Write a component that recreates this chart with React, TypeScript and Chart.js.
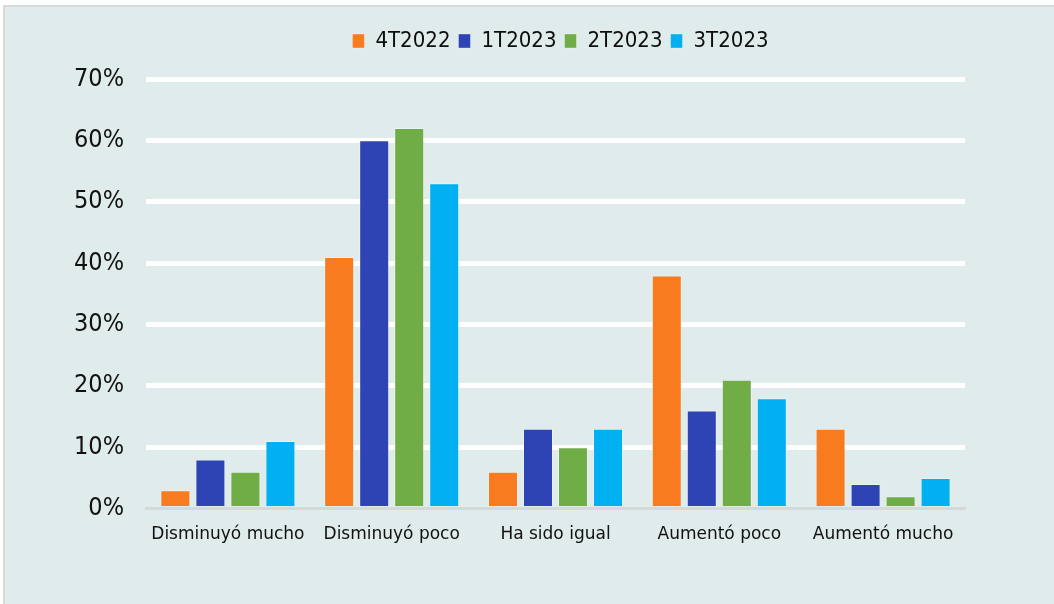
import React, { useEffect, useRef } from "react";
import { Chart, registerables } from "chart.js";

Chart.register(...registerables);

const categories = ["Disminuyó mucho", "Disminuyó poco", "Ha sido igual", "Aumentó poco", "Aumentó mucho"];
const seriesNames = ["4T2022", "1T2023", "2T2023", "3T2023"];
const s4T2022 = [3, 41, 6, 38, 13];
const s1T2023 = [8, 60, 13, 16, 4];
const s2T2023 = [6, 62, 10, 21, 2];
const s3T2023 = [11, 53, 13, 18, 5];
const seriesColors = ["#F97B20", "#2E44B5", "#70AD47", "#00B0F0"];
const yTicks = [0, 10, 20, 30, 40, 50, 60, 70];

const legendTweak = {
  id: "legendTweak",
  beforeInit(chart: any) {
    const lg = chart.legend;
    if (!lg) return;
    const orig = lg.fit.bind(lg);
    lg.fit = function () {
      orig();
      this.height += 17;
    };
  },
  afterLayout(chart: any) {
    const lg = chart.legend;
    if (!lg) return;
    lg.left = chart.chartArea.left + 10;
    lg.width = lg.right - lg.left;
  },
};

export default function App() {
  const ref = useRef<HTMLCanvasElement>(null);
  useEffect(() => {
    if (!ref.current) return;
    const values = [s4T2022, s1T2023, s2T2023, s3T2023];
    const chart = new Chart(ref.current, {
      type: "bar",
      data: {
        labels: categories,
        datasets: values.map((v, i) => ({
          label: seriesNames[i],
          data: v,
          backgroundColor: seriesColors[i],
          borderColor: "rgba(255,255,255,0.35)",
          borderWidth: 1,
          categoryPercentage: 0.855,
          barPercentage: 0.857,
        })),
      },
      plugins: [legendTweak],
      options: {
        animation: false,
        responsive: false,
        maintainAspectRatio: false,
        layout: { padding: { left: 0, right: 89, top: 15, bottom: 51 } },
        plugins: {
          tooltip: { enabled: false },
          legend: {
            position: "top",
            labels: {
              boxWidth: 12,
              boxHeight: 14,
              padding: 8,
              color: "#0d0d0d",
              font: { family: "'DejaVu Sans Condensed', 'DejaVu Sans'", size: 22 },
            },
          },
        },
        scales: {
          x: {
            grid: { display: false },
            border: { display: true, color: "#D6D9D9", width: 3 },
            ticks: { color: "#111", font: { family: "DejaVu Sans", size: 17 }, padding: 8 },
          },
          y: {
            min: yTicks[0],
            max: yTicks[yTicks.length - 1],
            afterFit: (s: any) => {
              s.width = 141;
            },
            afterBuildTicks: (s: any) => {
              s.ticks = yTicks.map((v) => ({ value: v }));
            },
            ticks: {
              padding: 22,
              color: "#111",
              font: { family: "'Liberation Sans Narrow', 'DejaVu Sans Condensed', sans-serif", size: 25 },
              callback: (v: any) => v + "%",
            },
            grid: {
              drawTicks: false,
              color: (ctx: any) => (ctx.tick && ctx.tick.value === 0 ? "rgba(0,0,0,0)" : "#FFFFFF"),
              lineWidth: 5,
            },
            border: { display: false },
          },
        },
      },
    });
    return () => chart.destroy();
  }, []);
  return (
    <div
      style={{
        position: "fixed",
        left: 3,
        top: 5,
        width: 1051,
        height: 599,
        boxSizing: "border-box",
        borderTop: "2px solid #D9D9D9",
        borderLeft: "2px solid #D9D9D9",
        background: "#E0EBEB",
      }}
    >
      <canvas ref={ref} width={1049} height={597} style={{ display: "block" }} />
    </div>
  );
}
